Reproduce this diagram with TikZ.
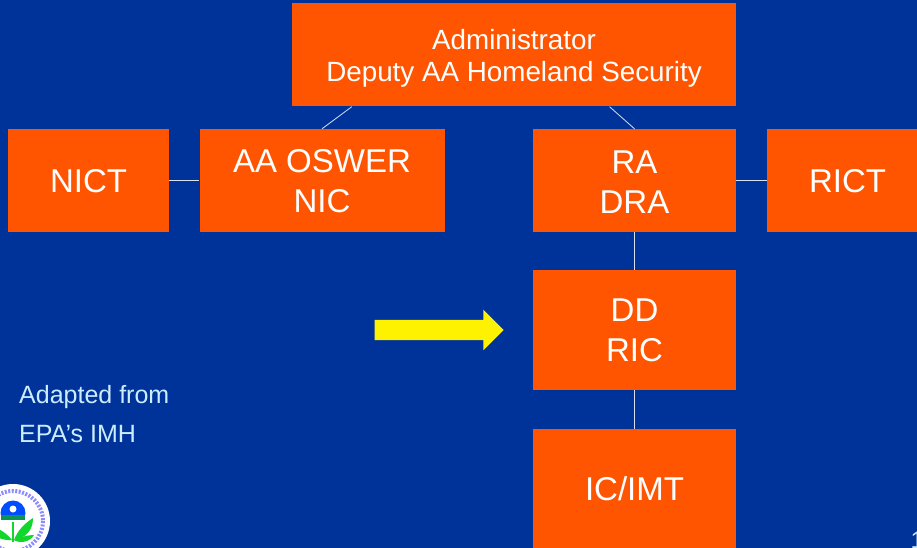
\documentclass[tikz,border=0pt]{standalone}
\usepackage{fontspec}
\setmainfont{Liberation Sans}
\usetikzlibrary{positioning}
\usetikzlibrary{calc}
\usetikzlibrary{shapes.arrows}
\definecolor{slideblue}{HTML}{003399}
\definecolor{boxorange}{HTML}{FF5500}
\definecolor{notecyan}{HTML}{CCECFF}
\definecolor{leafgreen}{HTML}{11D62B}

\begin{document}
\begin{tikzpicture}[x=1pt, y=-1pt,
        box/.style={fill=boxorange, text=white, minimum width=#1, inner sep=0pt, align=center, font=\fontsize{33}{40}\selectfont},
        link/.style={draw=white!85!slideblue, line width=0.8pt},
        note/.style={text=notecyan, anchor=base west, inner sep=0pt, font=\fontsize{25}{29}\selectfont}]
    \useasboundingbox (0,0) rectangle (917,548);
    \fill[slideblue] (0,0) rectangle (917,548);

    \node[box=444pt, minimum height=103pt, font=\fontsize{27.8}{32}\selectfont] (admin) at (514,55) {\rule{0pt}{27pt}Administrator\\Deputy AA Homeland Security};
    \node[box=161pt, minimum height=103pt] (nict) at (88.5,180.5) {\rule{0pt}{25pt}NICT};
    \node[box=245pt, minimum height=103pt] (aa) at (322,180.5) {\rule{0pt}{25pt}AA OSWER\\NIC};
    \node[box=203pt, minimum height=103pt] (ra) at (634.5,180.5) {\rule{0pt}{25pt}RA\\DRA};
    \node[box=161pt, minimum height=103pt] (rict) at (847.5,180.5) {\rule{0pt}{25pt}RICT};
    \node[box=203pt, minimum height=120pt] (dd) at (634.5,330) {DD\\RIC};
    \node[box=203pt, minimum height=120pt] (ic) at (634.5,489) {IC/IMT};

    \draw[link] ($(admin.south west)!0.135!(admin.south east)$) -- (aa.north);
    \draw[link] ($(admin.south west)!0.715!(admin.south east)$) -- (ra.north);
    \draw[link] (nict) -- (aa);
    \draw[link] (ra) -- (rict);
    \draw[link] (ra) -- (dd);
    \draw[link] (dd) -- (ic);

    \node[single arrow, fill=yellow, minimum height=129pt, minimum width=40pt, single arrow head extend=10pt, single arrow tip angle=90, inner sep=10pt, outer sep=0pt] (pointer) at (434,330) {};

    \node[note] (adapted) at (19,403.5) {Adapted from};
    \node[note] (imh) at (19,442.5) {EPA’s IMH};
    \node[text=notecyan, anchor=north west, inner sep=0pt, font=\fontsize{24}{29}\selectfont] (pagenum) at (910.5,532) {1};

    % seal
    \fill[white] (13,521) circle (37);
    \draw[blue!45!white, line width=4pt, dash pattern=on 2pt off 1.5pt] (13,521) circle (30);
    \fill[white] (13,521) circle (26);
    \fill[blue!70!cyan] (13,513) circle (12.5);
    \fill[white] (13,509) circle (3.5);
    \fill[leafgreen!60!slideblue] (0.8,515) rectangle (25.2,520);
    \fill[white] (0,520) rectangle (26,526);
    \fill[leafgreen] (12,540) .. controls (4,530) and (-6,526) .. (-14,527) .. controls (-8,536) and (2,541) .. (12,540);
    \fill[leafgreen] (14,540) .. controls (18,530) and (24,524) .. (33,518) .. controls (33,530) and (26,538) .. (14,540);
    \fill[leafgreen] (14,540) .. controls (20,537) and (28,535) .. (34,535) .. controls (30,542) and (20,544) .. (14,540);
    \fill[leafgreen] (12,522) rectangle (14,542);
\end{tikzpicture}
\end{document}
